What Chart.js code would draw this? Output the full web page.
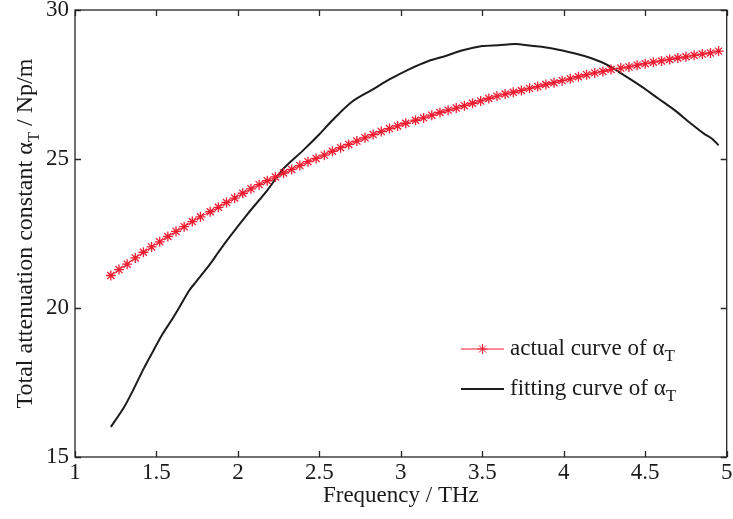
<!DOCTYPE html>
<html>
<head>
<meta charset="utf-8">
<script src="https://cdn.jsdelivr.net/npm/chart.js@4/dist/chart.umd.min.js"></script>
<style>
  body { margin: 0; background: #fff; }
  canvas { display: block; }
</style>
</head>
<body>
<canvas id="grafico" width="733" height="519"></canvas>
<script>
// frecuencias (THz) de la curva real, una por asterisco
const freqActual = [
  1.22, 1.27, 1.32, 1.37, 1.42, 1.47, 1.52, 1.57, 1.62, 1.67,
  1.72, 1.77, 1.83, 1.88, 1.93, 1.98, 2.03, 2.08, 2.13, 2.18,
  2.23, 2.28, 2.33, 2.38, 2.43, 2.48, 2.53, 2.58, 2.63, 2.68,
  2.73, 2.78, 2.83, 2.88, 2.93, 2.98, 3.03, 3.09, 3.14, 3.19,
  3.24, 3.29, 3.34, 3.39, 3.44, 3.49, 3.54, 3.59, 3.64, 3.69,
  3.74, 3.79, 3.84, 3.89, 3.94, 3.99, 4.04, 4.09, 4.14, 4.19,
  4.24, 4.29, 4.35, 4.40, 4.45, 4.50, 4.55, 4.60, 4.65, 4.70,
  4.75, 4.80, 4.85, 4.90, 4.95
]
const alphaActual = [
  21.09, 21.29, 21.47, 21.68, 21.87, 22.05, 22.22, 22.40, 22.57, 22.73,
  22.90, 23.06, 23.23, 23.38, 23.54, 23.69, 23.85, 24.00, 24.14, 24.27,
  24.40, 24.53, 24.65, 24.78, 24.91, 25.02, 25.13, 25.26, 25.38, 25.49,
  25.60, 25.71, 25.82, 25.92, 26.02, 26.11, 26.20, 26.30, 26.38, 26.47,
  26.56, 26.64, 26.71, 26.79, 26.87, 26.95, 27.03, 27.11, 27.18, 27.24,
  27.30, 27.37, 27.43, 27.50, 27.56, 27.63, 27.69, 27.76, 27.83, 27.89,
  27.94, 28.00, 28.05, 28.09, 28.15, 28.20, 28.25, 28.29, 28.34, 28.39,
  28.43, 28.48, 28.52, 28.56, 28.62
]
// curva de ajuste
const freqFit = [
  1.22, 1.30, 1.36, 1.42, 1.48, 1.54, 1.59, 1.64, 1.70, 1.74,
  1.83, 1.88, 1.94, 2.06, 2.18, 2.28, 2.40, 2.50, 2.58, 2.70,
  2.82, 2.93, 3.05, 3.17, 3.27, 3.38, 3.50, 3.60, 3.70, 3.80,
  3.93, 4.07, 4.17, 4.27, 4.37, 4.48, 4.58, 4.68, 4.78, 4.86,
  4.91, 4.95
]
const alphaFit = [
  16.01, 16.66, 17.28, 17.95, 18.56, 19.15, 19.57, 20.02, 20.58, 20.86,
  21.48, 21.87, 22.32, 23.16, 23.95, 24.68, 25.29, 25.83, 26.30, 26.92,
  27.31, 27.67, 28.01, 28.29, 28.45, 28.65, 28.79, 28.82, 28.86, 28.80,
  28.71, 28.54, 28.38, 28.15, 27.81, 27.42, 27.03, 26.64, 26.19, 25.85,
  25.68, 25.46
]
const xTicks = [1, 1.5, 2, 2.5, 3, 3.5, 4, 4.5, 5]
const yTicks = [15, 20, 25, 30]
const legendLabels = ['actual curve of ', 'fitting curve of ']

const FUENTE = '"Liberation Serif", "Times New Roman", serif'
const TAM = 23
const ROJO = '#ee1c30'
const NEGRO = '#1c1c1c'
const EJE = '#262626'

// dibuja texto con un subindice, partes = [[texto, esSub], ...]
const textoRico = (ctx, partes, x, y, size) => {
  const sub = Math.round(size * 0.72)
  let cx = x
  partes.forEach(([t, s]) => {
    ctx.font = (s ? sub : size) + 'px ' + FUENTE
    ctx.fillText(t, cx, s ? y + size * 0.28 : y)
    cx += ctx.measureText(t).width
  })
  return cx - x
}
const anchoRico = (ctx, partes, size) => {
  const sub = Math.round(size * 0.72)
  let ancho = 0
  partes.forEach(([t, s]) => {
    ctx.font = (s ? sub : size) + 'px ' + FUENTE
    ancho += ctx.measureText(t).width
  })
  return ancho
}

const decorado = {
  id: 'decorado',
  afterDraw(chart) {
    const ctx = chart.ctx
    const a = chart.chartArea
    const sx = chart.scales.x
    const sy = chart.scales.y
    ctx.save()
    // caja y ticks hacia adentro
    ctx.strokeStyle = EJE
    ctx.lineWidth = 1.3
    ctx.strokeRect(a.left, a.top, a.right - a.left, a.bottom - a.top)
    ctx.beginPath()
    xTicks.forEach(v => {
      const px = Math.round(sx.getPixelForValue(v)) + 0.5
      ctx.moveTo(px, a.bottom); ctx.lineTo(px, a.bottom - 6)
      ctx.moveTo(px, a.top); ctx.lineTo(px, a.top + 6)
    })
    yTicks.forEach(v => {
      const py = Math.round(sy.getPixelForValue(v)) + 0.5
      ctx.moveTo(a.left, py); ctx.lineTo(a.left + 6, py)
      ctx.moveTo(a.right, py); ctx.lineTo(a.right - 6, py)
    })
    ctx.stroke()

    ctx.fillStyle = '#1a1a1a'
    ctx.textBaseline = 'alphabetic'
    ctx.textAlign = 'left'
    // titulo eje x
    const tx = 'Frequency / THz'
    ctx.font = TAM + 'px ' + FUENTE
    const wx = ctx.measureText(tx).width
    ctx.fillText(tx, (a.left + a.right) / 2 - wx / 2, 502)

    // titulo eje y, rotado
    const partesY = [['Total attenuation constant \u03b1', false], ['T', true], [' / Np/m', false]]
    const wy = anchoRico(ctx, partesY, 24)
    ctx.save()
    ctx.translate(32, (a.top + a.bottom) / 2)
    ctx.rotate(-Math.PI / 2)
    textoRico(ctx, partesY, -wy / 2, 0, 24)
    ctx.restore()

    // leyenda
    const filas = [
      { y: 349, color: ROJO, ancho: 1, estrella: true },
      { y: 389, color: NEGRO, ancho: 2, estrella: false }
    ]
    filas.forEach((f, i) => {
      ctx.strokeStyle = f.color
      ctx.lineWidth = f.ancho
      ctx.beginPath()
      ctx.moveTo(461, f.y); ctx.lineTo(504, f.y)
      ctx.stroke()
      if (f.estrella) {
        Chart.helpers.drawPoint(ctx, { pointStyle: 'star', radius: 5, borderWidth: 1.3 }, 482.5, f.y)
      }
      ctx.fillStyle = '#1a1a1a'
      textoRico(ctx, [[legendLabels[i] + '\u03b1', false], ['T', true]], 510, f.y + 6, TAM)
    })
    ctx.restore()
  }
}

new Chart(document.getElementById('grafico'), {
  type: 'scatter',
  data: {
    datasets: [
      {
        label: 'actual curve',
        data: freqActual.map((f, i) => ({ x: f, y: alphaActual[i] })),
        showLine: true,
        borderColor: ROJO,
        borderWidth: 1,
        pointStyle: 'star',
        pointRadius: 5,
        pointBorderWidth: 1.3,
        pointBorderColor: ROJO,
        pointBackgroundColor: ROJO
      },
      {
        label: 'fitting curve',
        data: freqFit.map((f, i) => ({ x: f, y: alphaFit[i] })),
        showLine: true,
        borderColor: NEGRO,
        borderWidth: 2,
        pointRadius: 0,
        tension: 0.3
      }
    ]
  },
  options: {
    responsive: false,
    animation: false,
    layout: { padding: { top: 10, right: 4, left: 0, bottom: 0 } },
    plugins: { legend: { display: false }, tooltip: { enabled: false } },
    scales: {
      x: {
        type: 'linear',
        min: 1, max: 5,
        afterBuildTicks: s => { s.ticks = xTicks.map(v => ({ value: v })) },
        afterFit: s => { s.height = 62; s.paddingLeft = 0; s.paddingRight = 0 },
        grid: { display: false, drawTicks: false },
        border: { display: false },
        ticks: {
          padding: 2,
          color: '#1a1a1a',
          font: { family: FUENTE, size: TAM },
          callback: v => String(v)
        }
      },
      y: {
        min: 15, max: 30,
        afterBuildTicks: s => { s.ticks = yTicks.map(v => ({ value: v })) },
        afterFit: s => { s.width = 75; s.paddingTop = 0; s.paddingBottom = 0 },
        grid: { display: false, drawTicks: false },
        border: { display: false },
        ticks: {
          padding: 6,
          color: '#1a1a1a',
          font: { family: FUENTE, size: TAM },
          callback: v => String(v)
        }
      }
    }
  },
  plugins: [decorado]
})
</script>
</body>
</html>
